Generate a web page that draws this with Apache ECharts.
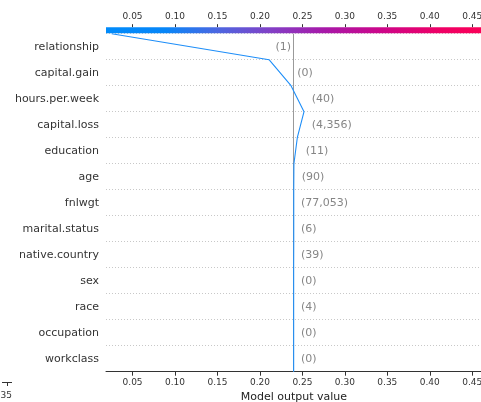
<!DOCTYPE html>
<html>
<head>
<meta charset="utf-8">
<script src="https://cdn.jsdelivr.net/npm/echarts@6/dist/echarts.min.js"></script>
<style>
  html, body { margin: 0; padding: 0; background: #fff; }
  #chart { width: 481px; height: 402px; }
</style>
</head>
<body>
<div id="chart"></div>
<script>
// features, top to bottom
const features = ['relationship', 'capital.gain', 'hours.per.week', 'capital.loss', 'education', 'age',
  'fnlwgt', 'marital.status', 'native.country', 'sex', 'race', 'occupation', 'workclass']
const featureValues = ['1', '0', '40', '4,356', '11', '90', '77,053', '6', '39', '0', '4', '0', '0']

// cumulative model output at each row boundary, from the bottom (base value) up to the top (prediction)
const pathValues = [0.2397, 0.2397, 0.2397, 0.2397, 0.2397, 0.2398, 0.2398, 0.2398, 0.2400,
  0.2440, 0.2519, 0.2366, 0.2107, 0.0254]
const baseValue = 0.2395

// where each "(value)" label sits, top to bottom, and which side of that point
const labelX = [0.2366, 0.2440, 0.2610, 0.2610, 0.2539, 0.2492, 0.2483, 0.2483, 0.2483, 0.2483, 0.2483, 0.2483, 0.2483]
const labelSide = ['left', 'right', 'right', 'right', 'right', 'right', 'right', 'right', 'right', 'right', 'right', 'right', 'right']

const xTicks = [0.05, 0.10, 0.15, 0.20, 0.25, 0.30, 0.35, 0.40, 0.45]
const xMin = 0.0187
const xMax = 0.48

const font = 'DejaVu Sans'
const n = features.length

const chart = echarts.init(document.getElementById('chart'))

const linePoints = pathValues.map((v, i) => [v, i])
const labelPoints = features.map((f, i) => ({
  value: [labelX[i], n - 1 - i + 0.5],
  label: { position: labelSide[i], formatter: '(' + featureValues[i] + ')' }
}))

const tickFmt = v => v.toFixed(2)

const option = {
  animation: false,
  textStyle: { fontFamily: font },
  grid: { left: 106, top: 33.7, height: 338, right: -16.7, outerBoundsMode: 'none', containLabel: false },
  xAxis: [
    {
      type: 'value', min: xMin, max: xMax, position: 'bottom',
      axisLine: { show: true, lineStyle: { color: '#333', width: 1 } },
      axisTick: { show: true, length: 4, customValues: xTicks, lineStyle: { color: '#333' } },
      axisLabel: { customValues: xTicks, formatter: tickFmt, fontSize: 9, color: '#333', margin: 6, fontFamily: font },
      splitLine: { show: false },
      name: 'Model output value', nameLocation: 'middle', nameGap: 19.5,
      nameTextStyle: { fontSize: 11, color: '#222', fontFamily: font, padding: [0, 16, 0, 0] }
    },
    {
      type: 'value', min: xMin, max: xMax, position: 'top', offset: 6.5,
      axisLine: { show: false },
      axisTick: { show: true, length: 3, customValues: xTicks, lineStyle: { color: '#333' } },
      axisLabel: { customValues: xTicks, formatter: tickFmt, fontSize: 9, color: '#333', margin: 6.5, fontFamily: font },
      splitLine: { show: false }
    }
  ],
  yAxis: [
    {
      type: 'value', min: 0, max: n, interval: 1,
      axisLine: { show: false }, axisTick: { show: false }, axisLabel: { show: false },
      splitLine: { show: true, lineStyle: { color: '#c8c8c8', width: 1, type: [1, 2] } }
    },
    {
      type: 'category', position: 'left', boundaryGap: true,
      data: features.slice().reverse(),
      axisLine: { show: false }, axisTick: { show: false },
      axisLabel: { fontSize: 11, color: '#333', margin: 7, fontFamily: font, padding: [2, 0, 0, 0] },
      splitLine: { show: false }
    }
  ],
  graphic: [
    {
      type: 'rect', z: 100,
      shape: { x: 106, y: 27.3, width: 392, height: 6 },
      style: {
        fill: new echarts.graphic.LinearGradient(0, 0, 1, 0, [
          { offset: 0, color: '#008bfb' },
          { offset: 0.15, color: '#0786f8' },
          { offset: 0.28, color: '#4a68e2' },
          { offset: 0.42, color: '#8240c6' },
          { offset: 0.56, color: '#a818a8' },
          { offset: 0.7, color: '#cc068a' },
          { offset: 0.85, color: '#ee0066' },
          { offset: 1, color: '#ff0052' }
        ])
      }
    },
    { type: 'line', shape: { x1: 2, y1: 382.5, x2: 12, y2: 382.5 }, style: { stroke: '#333', lineWidth: 1 } },
    { type: 'line', shape: { x1: 7.5, y1: 382.5, x2: 7.5, y2: 386 }, style: { stroke: '#333', lineWidth: 1 } },
    {
      type: 'text', x: 12, y: 396,
      style: { text: '0.35', font: '9px "DejaVu Sans"', fill: '#333', align: 'right', verticalAlign: 'middle' }
    }
  ],
  series: [
    {
      // base value reference line
      type: 'line', xAxisIndex: 0, yAxisIndex: 0, z: 1, silent: true,
      data: [[baseValue, 0], [baseValue, n]], showSymbol: false, symbol: 'none',
      lineStyle: { color: '#999', width: 1 }
    },
    {
      type: 'line', xAxisIndex: 0, yAxisIndex: 0, z: 3, silent: true,
      data: linePoints, showSymbol: false, symbol: 'none',
      lineStyle: { color: '#1e8ef8', width: 1.1 }
    },
    {
      type: 'scatter', xAxisIndex: 0, yAxisIndex: 0, z: 4, silent: true,
      symbolSize: 0,
      data: labelPoints,
      label: { show: true, distance: 0, fontSize: 11, color: '#666', fontFamily: font, padding: [2, 0, 0, 0] }
    }
  ]
}

chart.setOption(option)
</script>
</body>
</html>
